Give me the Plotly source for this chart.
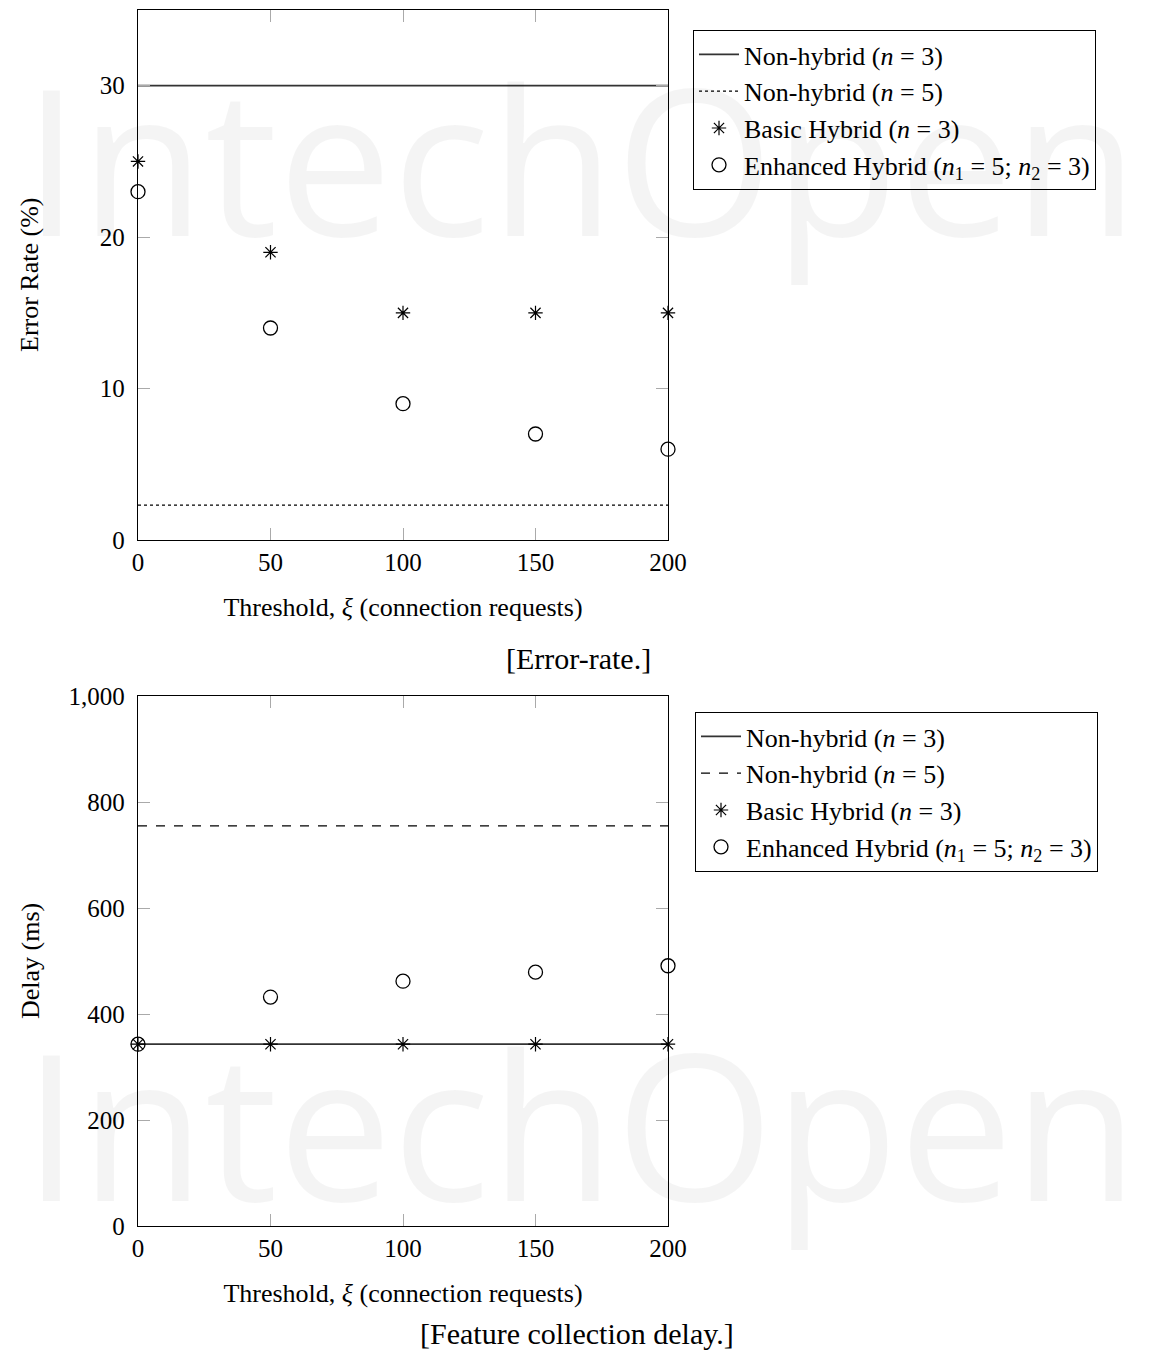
import plotly.graph_objects as go

# ---- data ----
thresholds = [0, 50, 100, 150, 200]

err_nonhybrid_n3 = [30, 30, 30, 30, 30]
err_nonhybrid_n5 = [2.3, 2.3, 2.3, 2.3, 2.3]
err_basic_hybrid = [25, 19, 15, 15, 15]
err_enhanced_hybrid = [23, 14, 9, 7, 6]

delay_nonhybrid_n3 = [343, 343, 343, 343, 343]
delay_nonhybrid_n5 = [755, 755, 755, 755, 755]
delay_basic_hybrid = [343, 343, 343, 343, 343]
delay_enhanced_hybrid = [343, 432, 462, 479, 491]

x_ticks = [0, 50, 100, 150, 200]
err_ticks = [0, 10, 20, 30]
delay_ticks = [0, 200, 400, 600, 800, 1000]

names = [
    "Non-hybrid (<i>n</i> = 3)",
    "Non-hybrid (<i>n</i> = 5)",
    "Basic Hybrid (<i>n</i> = 3)",
    "Enhanced Hybrid (<i>n</i><sub>1</sub> = 5; <i>n</i><sub>2</sub> = 3)",
]

# page is 1151x1362; the html body adds an 8 px margin
OFF = 8
FW, FH = 1151 - 2 * OFF, 1362 - 2 * OFF
def px(p):
    return (p - OFF) / FW
def py(p):
    return 1 - (p - OFF) / FH

FONT = "Liberation Serif"

fig = go.Figure()

def add_series(xa, ya, legend, ys, dash_n5):
    fig.add_trace(go.Scatter(x=thresholds, y=ys[0], mode="lines", name=names[0],
                             line=dict(color="#333333", width=1.8), xaxis=xa, yaxis=ya,
                             legend=legend, cliponaxis=False))
    fig.add_trace(go.Scatter(x=thresholds, y=ys[1], mode="lines", name=names[1],
                             line=dict(color="black", width=1.3, dash=dash_n5), xaxis=xa, yaxis=ya,
                             legend=legend, cliponaxis=False))
    fig.add_trace(go.Scatter(x=thresholds, y=ys[2], mode="markers", name=names[2],
                             marker=dict(symbol="asterisk-open", size=12, color="black",
                                         line=dict(color="black", width=1.2)),
                             xaxis=xa, yaxis=ya, legend=legend, cliponaxis=False))
    fig.add_trace(go.Scatter(x=thresholds, y=ys[3], mode="markers", name=names[3],
                             marker=dict(symbol="circle-open", size=14, color="black",
                                         line=dict(color="black", width=1.3)),
                             xaxis=xa, yaxis=ya, legend=legend, cliponaxis=False))

add_series("x", "y", "legend",
           [err_nonhybrid_n3, err_nonhybrid_n5, err_basic_hybrid, err_enhanced_hybrid], "dot")
add_series("x2", "y2", "legend2",
           [delay_nonhybrid_n3, delay_nonhybrid_n5, delay_basic_hybrid, delay_enhanced_hybrid], "dash")

axis_common = dict(showline=True, linecolor="black", linewidth=1.3, mirror="ticks",
                   ticks="inside", ticklen=12, tickcolor="#aaaaaa", tickwidth=1,
                   showgrid=False, zeroline=False, automargin=False,
                   tickfont=dict(size=25, color="black", family=FONT))

xdom = [px(138), px(668)]
title_font = dict(size=26, color="black", family=FONT)
xtitle = "Threshold, <i>ξ</i> (connection requests)"

legend_common = dict(xanchor="left", yanchor="top", bordercolor="black", borderwidth=1,
                     bgcolor="white", font=dict(size=26, color="black", family=FONT),
                     xref="paper", yref="paper", tracegroupgap=0, itemwidth=40)

fig.update_layout(
    width=FW, height=FH,
    margin=dict(l=0, r=0, t=0, b=0),
    template="none",
    paper_bgcolor="white", plot_bgcolor="white",
    font=dict(family=FONT, color="black", size=25),
    xaxis=dict(domain=xdom, range=[0, 200], tickvals=x_ticks, anchor="y",
               title=dict(text=xtitle, font=title_font, standoff=22), **axis_common),
    yaxis=dict(domain=[py(540), py(10)], range=[0, 35], tickvals=err_ticks, anchor="x",
               ticklabelstandoff=7, **axis_common),
    xaxis2=dict(domain=xdom, range=[0, 200], tickvals=x_ticks, anchor="y2",
                title=dict(text=xtitle, font=title_font, standoff=22), **axis_common),
    yaxis2=dict(domain=[py(1226), py(696)], range=[0, 1000], tickvals=delay_ticks,
                tickformat=",", anchor="x2", ticklabelstandoff=7, **axis_common),
    legend=dict(x=px(693), y=py(30), **legend_common),
    legend2=dict(x=px(695), y=py(712), **legend_common),
    showlegend=True,
)

# y axis titles
fig.add_annotation(text="Error Rate (%)", textangle=-90, x=px(30), y=py(275),
                   xref="paper", yref="paper", xanchor="center", yanchor="middle",
                   showarrow=False, font=title_font)
fig.add_annotation(text="Delay (ms)", textangle=-90, x=px(30), y=py(961),
                   xref="paper", yref="paper", xanchor="center", yanchor="middle",
                   showarrow=False, font=title_font)

# captions
fig.add_annotation(text="[Error-rate.]", x=px(578), y=py(658), xref="paper", yref="paper",
                   xanchor="center", yanchor="middle", showarrow=False,
                   font=dict(size=30, color="black", family=FONT))
fig.add_annotation(text="[Feature collection delay.]", x=px(577), y=py(1333),
                   xref="paper", yref="paper", xanchor="center", yanchor="middle",
                   showarrow=False, font=dict(size=30, color="black", family=FONT))

# watermark
for yc in [157, 1122]:
    fig.add_annotation(text="IntechOpen", x=px(580), y=py(yc), xref="paper", yref="paper",
                       xanchor="center", yanchor="middle", showarrow=False,
                       font=dict(size=204, color="rgba(0,0,0,0.045)", family="Open Sans"))

fig.write_html("out.html")
